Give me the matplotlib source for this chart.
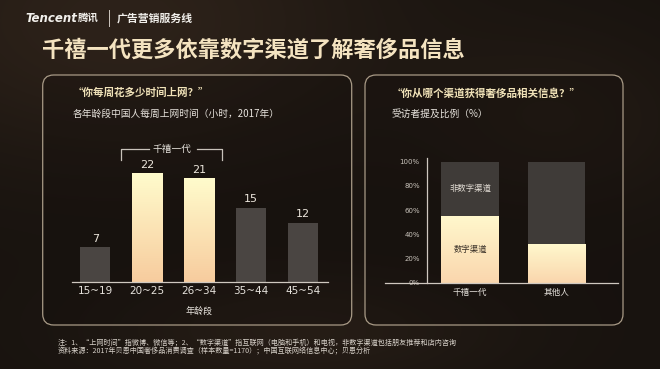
import numpy as np
import matplotlib
matplotlib.use("Agg")
import matplotlib.pyplot as plt
from matplotlib.patches import FancyBboxPatch

plt.rcParams['font.family'] = ['Noto Sans CJK SC', 'DejaVu Sans']

# ---------------- data ----------------
age_groups = ["15~19", "20~25", "26~34", "35~44", "45~54"]
weekly_hours = [7, 22, 21, 15, 12]
millennial_flags = [False, True, True, False, False]

groups = ["千禧一代", "其他人"]
digital_pct = [55, 32]
non_digital_pct = [45, 68]
pct_ticks = [0, 20, 40, 60, 80, 100]
pct_labels = ["0%", "20%", "40%", "60%", "80%", "100%"]

W, H = 660, 369
fig = plt.figure(figsize=(W / 100, H / 100), dpi=100)

# ---------------- background (pixel coordinate axes) ----------------
bg = fig.add_axes([0, 0, 1, 1], zorder=-10)
bg.set_xlim(0, W)
bg.set_ylim(H, 0)
bg.axis('off')
yy, xx = np.mgrid[0:H, 0:W]
base = np.array([24, 19, 15]) / 255.0
glow = np.array([62, 46, 34]) / 255.0
f = 0.55 * np.exp(-(((xx - 120) / 260) ** 2 + ((yy - 20) / 140) ** 2)) \
    + 0.35 * np.exp(-(((xx - 300) / 200) ** 2 + ((yy - 330) / 60) ** 2)) \
    + 0.25 * np.exp(-(((xx - 560) / 140) ** 2 + ((yy - 120) / 90) ** 2))
f = np.clip(f, 0, 1)[..., None]
img = base * (1 - f) + glow * f
bg.imshow(img, extent=(0, W, H, 0), aspect='auto', zorder=0)

for (x0, x1) in [(42.7, 351.7), (365, 623)]:
    p = FancyBboxPatch((x0, 75), x1 - x0, 250,
                       boxstyle="round,pad=0,rounding_size=11",
                       facecolor=(0.08, 0.06, 0.05, 0.35),
                       edgecolor='#a89a86', linewidth=0.9, zorder=1)
    bg.add_patch(p)

# header
bg.text(25, 18, "Tencent", fontsize=8.5, fontweight='bold', fontstyle='italic',
        family='DejaVu Sans', color='#f2f0ec', va='center', ha='left', zorder=3)
bg.text(78, 18, "腾讯", fontsize=7.5, fontweight='bold', color='#f2f0ec',
        va='center', ha='left', zorder=3)
bg.plot([109, 109], [10, 26], color='#cfc8c0', lw=0.7, zorder=3)
bg.text(117, 18, "广告营销服务线", fontsize=7.8, fontweight='bold', color='#f2f0ec',
        va='center', ha='left', zorder=3)

# main title
bg.text(42, 50, "千禧一代更多依靠数字渠道了解奢侈品信息", fontsize=16, fontweight='bold',
        color='#f4e3c0', va='center', ha='left', zorder=3)

# panel titles
bg.text(73, 93, "“你每周花多少时间上网？”", fontsize=7.6, fontweight='bold',
        color='#f0e2b8', va='center', ha='left', zorder=3)
bg.text(73, 114, "各年龄段中国人每周上网时间（小时，2017年）", fontsize=7,
        color='#e6e2dc', va='center', ha='left', zorder=3)
bg.text(392, 93, "“你从哪个渠道获得奢侈品相关信息？”", fontsize=7.6, fontweight='bold',
        color='#f0e2b8', va='center', ha='left', zorder=3)
bg.text(392, 114, "受访者提及比例（%）", fontsize=7,
        color='#e6e2dc', va='center', ha='left', zorder=3)

bg.text(199, 311, "年龄段", fontsize=6.5, color='#e6e2dc', va='center', ha='center', zorder=3)

# footnotes
bg.text(58, 342, "注：1、“上网时间”指微博、微信等；2、“数字渠道”指互联网（电脑和手机）和电视，非数字渠道包括朋友推荐和店内咨询",
        fontsize=5.1, color='#d8d2ca', va='center', ha='left', zorder=3)
bg.text(58, 351, "资料来源：2017年贝恩中国奢侈品消费调查（样本数量=1170）；中国互联网络信息中心；贝恩分析",
        fontsize=5.1, color='#d8d2ca', va='center', ha='left', zorder=3)


def gradient_fill(ax, bar, bottom_rgb, top_rgb):
    x0, y0 = bar.get_x(), bar.get_y()
    w, h = bar.get_width(), bar.get_height()
    n = 64
    t = np.linspace(0, 1, n)[:, None]
    g = np.array(bottom_rgb)[None, :] * (1 - t) + np.array(top_rgb)[None, :] * t
    g = g[:, None, :]
    im = ax.imshow(g, extent=(x0, x0 + w, y0, y0 + h), origin='lower',
                   aspect='auto', zorder=bar.get_zorder() + 0.1, interpolation='bilinear')
    im.set_clip_path(bar)


def px_axes(left, right, top, bottom):
    return fig.add_axes([left / W, 1 - bottom / H, (right - left) / W, (bottom - top) / H])


cream_top = (1.0, 0.985, 0.80)
peach_bottom = (0.97, 0.80, 0.62)

# ---------------- left chart ----------------
ax1 = px_axes(71.7, 328, 140, 281.7)
ax1.patch.set_alpha(0)
x = np.arange(len(age_groups))
bars = ax1.bar(x, weekly_hours, width=0.58, color='#4a4542', zorder=2)
for b, flag in zip(bars, millennial_flags):
    if flag:
        b.set_facecolor('none')
        gradient_fill(ax1, b, peach_bottom, cream_top)
for xi, v in zip(x, weekly_hours):
    ax1.annotate(str(v), (xi, v), xytext=(0, 2.5), textcoords='offset points',
                 ha='center', va='bottom', fontsize=8, color='#ece6dc',
                 family='DejaVu Sans')
ax1.set_xlim(-0.456, 4.49)
ax1.set_ylim(0, 28.8)
ax1.set_xticks(x)
ax1.set_xticklabels(age_groups, fontsize=7.5, color='#e6e2dc', family='DejaVu Sans')
ax1.set_yticks([])
ax1.tick_params(axis='x', length=0, pad=3)
for s in ['top', 'right', 'left']:
    ax1.spines[s].set_visible(False)
ax1.spines['bottom'].set_color('#cfc8c0')
ax1.spines['bottom'].set_linewidth(0.9)

# bracket for millennials
bk_top, bk_bot = 27.0, 24.75
bcol = '#c8c2ba'
ax1.plot([0.5, 0.5, 1.04], [bk_bot, bk_top, bk_top], color=bcol, lw=0.9, clip_on=False)
ax1.plot([1.96, 2.44, 2.44], [bk_top, bk_top, bk_bot], color=bcol, lw=0.9, clip_on=False)
ax1.text(1.47, bk_top, "千禧一代", fontsize=7, color='#e6e2dc', ha='center', va='center')

# ---------------- right chart ----------------
ax2 = px_axes(385, 618, 158, 282.7)
ax2.patch.set_alpha(0)
ax2.spines['left'].set_position(('data', -0.5))
xr = np.arange(len(groups))
b_dig = ax2.bar(xr, digital_pct, width=0.66, color='none', zorder=2)
b_non = ax2.bar(xr, non_digital_pct, bottom=digital_pct, width=0.66,
                color='#3f3b38', zorder=2)
for b in b_dig:
    gradient_fill(ax2, b, (0.98, 0.84, 0.68), (1.0, 0.97, 0.80))
ax2.text(xr[0], digital_pct[0] + non_digital_pct[0] / 2, "非数字渠道", fontsize=6,
         color='#e2dcd4', ha='center', va='center', zorder=5)
ax2.text(xr[0], digital_pct[0] / 2, "数字渠道", fontsize=6,
         color='#3a3128', ha='center', va='center', zorder=5)
ax2.set_xlim(-0.983, 1.711)
ax2.set_ylim(0, 103)
ax2.set_xticks(xr)
ax2.set_xticklabels(groups, fontsize=6.2, color='#e6e2dc')
ax2.set_yticks(pct_ticks)
ax2.set_yticklabels(pct_labels, fontsize=5, color='#c8c2ba', family='DejaVu Sans')
ax2.tick_params(axis='x', length=0, pad=4)
ax2.tick_params(axis='y', length=0, pad=5)
for s in ['top', 'right']:
    ax2.spines[s].set_visible(False)
for s in ['left', 'bottom']:
    ax2.spines[s].set_color('#cfc8c0')
    ax2.spines[s].set_linewidth(0.9)

fig.savefig("out.png", dpi=100)
